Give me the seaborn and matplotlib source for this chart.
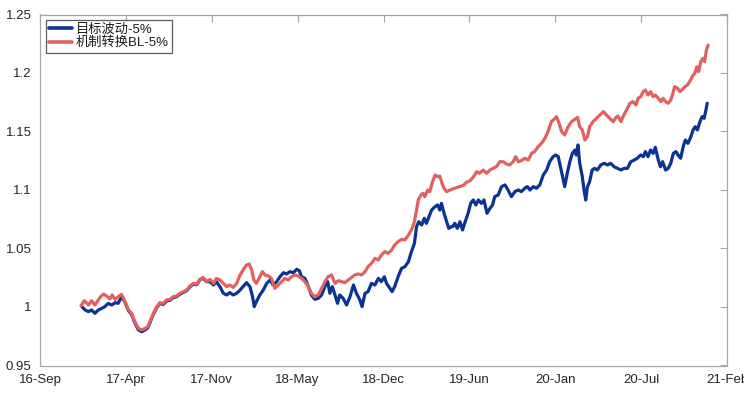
import pandas as pd
import seaborn as sns
import matplotlib
matplotlib.use("Agg")
import matplotlib.pyplot as plt

# day offsets from 2016-09-28 (left edge of the x axis) and net values
start_date = "2016-09-28"

blue_day = [96, 101, 105, 113, 120, 128, 136, 144, 151, 159, 167, 175, 182, 190,
            198, 206, 213, 221, 229, 237, 245, 251, 256, 264, 272, 279, 287, 295,
            303, 310, 318, 326, 334, 342, 349, 357, 365, 373, 380, 388, 396, 404,
            411, 419, 427, 435, 442, 450, 458, 466, 473, 481, 489, 495, 499, 504,
            512, 520, 528, 536, 543, 551, 559, 567, 574, 582, 590, 598, 604, 609,
            617, 625, 632, 640, 648, 656, 664, 670, 675, 681, 687, 693, 698, 706,
            714, 722, 730, 737, 745, 750, 757, 764, 772, 780, 788, 795, 802, 807,
            815, 820, 826, 834, 842, 850, 858, 865, 872, 877, 882, 889, 895, 900,
            906, 912, 920, 926, 931, 935, 941, 947, 952, 958, 961, 966, 972, 978,
            984, 989, 997, 1003, 1009, 1015, 1021, 1028, 1034, 1041, 1048, 1054,
            1059, 1067, 1075, 1083, 1090, 1098, 1106, 1114, 1121, 1129, 1135, 1141,
            1149, 1156, 1164, 1172, 1180, 1187, 1195, 1201, 1207, 1212, 1217, 1222,
            1228, 1234, 1240, 1246, 1249, 1253, 1257, 1263, 1267, 1271, 1275, 1280,
            1286, 1292, 1298, 1306, 1314, 1322, 1329, 1337, 1345, 1353, 1360, 1368,
            1376, 1384, 1391, 1399, 1405, 1410, 1416, 1422, 1428, 1433, 1440, 1445,
            1450, 1457, 1463, 1469, 1475, 1481, 1486, 1492, 1498, 1503, 1509, 1516,
            1521, 1526, 1531, 1537, 1542, 1547, 1551, 1554]
blue_val = [1.0012, 0.9989, 0.9975, 0.9960, 0.9975, 0.9946, 0.9975, 0.9989, 1.0003, 1.0031,
            1.0017, 1.0037, 1.0031, 1.0088, 1.0040, 0.9968, 0.9938, 0.9865, 0.9805, 0.9789,
            0.9805, 0.9822, 0.9865, 0.9938, 0.9995, 1.0030, 1.0022, 1.0052, 1.0058, 1.0080,
            1.0088, 1.0110, 1.0125, 1.0140, 1.0172, 1.0196, 1.0190, 1.0236, 1.0245, 1.0216,
            1.0216, 1.0188, 1.0216, 1.0174, 1.0117, 1.0103, 1.0123, 1.0103, 1.0117, 1.0145,
            1.0174, 1.0208, 1.0174, 1.0088, 1.0003, 1.0046, 1.0103, 1.0145, 1.0202, 1.0231,
            1.0188, 1.0216, 1.0259, 1.0293, 1.0282, 1.0302, 1.0293, 1.0322, 1.0310, 1.0259,
            1.0245, 1.0174, 1.0103, 1.0066, 1.0074, 1.0103, 1.0180, 1.0217, 1.0117, 1.0174,
            1.0103, 1.0031, 1.0103, 1.0074, 1.0017, 1.0088, 1.0188, 1.0117, 1.0060, 1.0003,
            1.0117, 1.0131, 1.0202, 1.0188, 1.0245, 1.0217, 1.0259, 1.0202, 1.0160, 1.0131,
            1.0174, 1.0259, 1.0330, 1.0345, 1.0387, 1.0473, 1.0544, 1.0687, 1.0729, 1.0701,
            1.0758, 1.0715, 1.0772, 1.0829, 1.0858, 1.0872, 1.0829, 1.0886, 1.0801, 1.0729,
            1.0672, 1.0687, 1.0687, 1.0715, 1.0672, 1.0729, 1.0658, 1.0715, 1.0801, 1.0886,
            1.0915, 1.0872, 1.0915, 1.0886, 1.0915, 1.0801, 1.0843, 1.0872, 1.0943, 1.0957,
            1.1029, 1.1043, 1.1000, 1.0943, 1.0986, 1.1000, 1.0986, 1.1015, 1.1029, 1.1000,
            1.1029, 1.1015, 1.1043, 1.1128, 1.1171, 1.1242, 1.1285, 1.1299, 1.1285, 1.1200,
            1.1114, 1.1029, 1.1143, 1.1242, 1.1314, 1.1342, 1.1299, 1.1385, 1.1228, 1.1114,
            1.1000, 1.0914, 1.1028, 1.1071, 1.1171, 1.1185, 1.1171, 1.1214, 1.1228, 1.1214,
            1.1228, 1.1199, 1.1185, 1.1171, 1.1185, 1.1185, 1.1242, 1.1256, 1.1271, 1.1299,
            1.1285, 1.1328, 1.1285, 1.1342, 1.1313, 1.1365, 1.1256, 1.1199, 1.1242, 1.1171,
            1.1185, 1.1228, 1.1313, 1.1328, 1.1299, 1.1271, 1.1370, 1.1427, 1.1399, 1.1456,
            1.1513, 1.1541, 1.1513, 1.1584, 1.1627, 1.1613, 1.1684, 1.1741]

red_day = [96, 103, 113, 120, 128, 140, 148, 155, 163, 168, 175, 182, 190, 198,
           206, 213, 221, 229, 237, 245, 251, 256, 264, 272, 279, 287, 295, 303,
           310, 318, 326, 334, 342, 349, 357, 365, 373, 380, 388, 396, 404, 411,
           419, 427, 435, 442, 450, 458, 466, 473, 481, 487, 493, 498, 504, 512,
           518, 524, 532, 539, 547, 555, 563, 570, 578, 586, 594, 601, 609, 617,
           625, 632, 640, 648, 656, 664, 671, 679, 687, 695, 702, 710, 718, 726,
           733, 741, 749, 757, 764, 772, 780, 788, 795, 803, 811, 819, 826, 834,
           842, 850, 858, 865, 872, 877, 881, 887, 892, 896, 903, 908, 913, 920,
           926, 931, 935, 941, 947, 955, 962, 970, 978, 986, 993, 1001, 1009, 1017,
           1024, 1032, 1040, 1048, 1055, 1063, 1071, 1079, 1086, 1094, 1102, 1108,
           1114, 1121, 1129, 1137, 1145, 1152, 1160, 1168, 1176, 1183, 1191, 1197,
           1203, 1209, 1215, 1222, 1230, 1238, 1246, 1252, 1257, 1263, 1269, 1275,
           1280, 1288, 1296, 1304, 1312, 1319, 1327, 1335, 1340, 1346, 1353, 1358,
           1366, 1374, 1381, 1388, 1393, 1399, 1405, 1410, 1416, 1422, 1428, 1433,
           1440, 1446, 1451, 1457, 1463, 1469, 1474, 1478, 1485, 1490, 1495, 1502,
           1508, 1513, 1519, 1525, 1530, 1534, 1539, 1544, 1548, 1552, 1556]
red_val = [1.0012, 1.0054, 1.0017, 1.0054, 1.0017, 1.0083, 1.0111, 1.0094, 1.0068, 1.0103,
           1.0065, 1.0088, 1.0108, 1.0046, 0.9975, 0.9946, 0.9875, 0.9818, 0.9803, 0.9818,
           0.9832, 0.9875, 0.9946, 1.0003, 1.0037, 1.0031, 1.0060, 1.0065, 1.0088, 1.0094,
           1.0117, 1.0131, 1.0145, 1.0179, 1.0202, 1.0196, 1.0231, 1.0252, 1.0216, 1.0236,
           1.0202, 1.0245, 1.0231, 1.0202, 1.0174, 1.0188, 1.0168, 1.0202, 1.0274, 1.0316,
           1.0359, 1.0368, 1.0316, 1.0231, 1.0202, 1.0259, 1.0302, 1.0274, 1.0265, 1.0245,
           1.0160, 1.0188, 1.0216, 1.0245, 1.0231, 1.0259, 1.0274, 1.0265, 1.0245, 1.0216,
           1.0174, 1.0117, 1.0088, 1.0103, 1.0160, 1.0220, 1.0259, 1.0274, 1.0202, 1.0225,
           1.0217, 1.0208, 1.0231, 1.0254, 1.0274, 1.0282, 1.0274, 1.0302, 1.0345, 1.0373,
           1.0416, 1.0402, 1.0444, 1.0473, 1.0459, 1.0487, 1.0530, 1.0558, 1.0578, 1.0573,
           1.0615, 1.0658, 1.0729, 1.0829, 1.0915, 1.0957, 1.0972, 1.0943, 1.1000, 1.0986,
           1.1057, 1.1128, 1.1114, 1.1120, 1.1071, 1.1014, 1.0986, 1.1000, 1.1010, 1.1020,
           1.1030, 1.1040, 1.1065, 1.1078, 1.1110, 1.1157, 1.1143, 1.1171, 1.1143, 1.1171,
           1.1185, 1.1200, 1.1242, 1.1242, 1.1222, 1.1214, 1.1242, 1.1285, 1.1242, 1.1251,
           1.1271, 1.1256, 1.1314, 1.1328, 1.1370, 1.1399, 1.1442, 1.1499, 1.1584, 1.1604,
           1.1627, 1.1570, 1.1499, 1.1470, 1.1541, 1.1584, 1.1604, 1.1621, 1.1541, 1.1513,
           1.1427, 1.1456, 1.1541, 1.1584, 1.1613, 1.1641, 1.1670, 1.1641, 1.1613, 1.1584,
           1.1613, 1.1632, 1.1584, 1.1627, 1.1684, 1.1741, 1.1755, 1.1727, 1.1784, 1.1798,
           1.1841, 1.1855, 1.1812, 1.1841, 1.1798, 1.1812, 1.1784, 1.1755, 1.1784, 1.1755,
           1.1741, 1.1769, 1.1826, 1.1883, 1.1869, 1.1841, 1.1855, 1.1883, 1.1898, 1.1926,
           1.1969, 1.1998, 1.2054, 1.2011, 1.2097, 1.2125, 1.2097, 1.2197, 1.2239]

tick_dates = ["2016-09-28", "2017-04-16", "2017-11-02", "2018-05-21", "2018-12-07",
              "2019-06-25", "2020-01-11", "2020-07-29", "2021-02-14"]
tick_labels = ["16-Sep", "17-Apr", "17-Nov", "18-May", "18-Dec",
               "19-Jun", "20-Jan", "20-Jul", "21-Feb"]
y_ticks = [0.95, 1, 1.05, 1.1, 1.15, 1.2, 1.25]
y_labels = ["0.95", "1", "1.05", "1.1", "1.15", "1.2", "1.25"]

names = ["目标波动-5%", "机制转换BL-5%"]
colors = ["#0b3391", "#e2605f"]

sns.set_style("white")
plt.rcParams["font.family"] = ["Liberation Sans", "Noto Sans CJK SC"]

base = pd.Timestamp(start_date)
blue_df = pd.DataFrame({"date": base + pd.to_timedelta(blue_day, unit="D"), "nav": blue_val})
red_df = pd.DataFrame({"date": base + pd.to_timedelta(red_day, unit="D"), "nav": red_val})

fig = plt.figure(figsize=(7.44, 3.96), dpi=100)
ax = fig.add_axes([40 / 744, 30.5 / 396, 687 / 744, 351 / 396])

sns.lineplot(data=blue_df, x="date", y="nav", color=colors[0], lw=2.3, label=names[0], ax=ax)
sns.lineplot(data=red_df, x="date", y="nav", color=colors[1], lw=2.3, label=names[1], ax=ax)

ax.set_xlim(base, pd.Timestamp(tick_dates[-1]))
ax.set_ylim(0.95, 1.25)
ax.set_xticks(pd.to_datetime(tick_dates))
ax.set_xticklabels(tick_labels)
ax.set_yticks(y_ticks)
ax.set_yticklabels(y_labels)
ax.set_xlabel("")
ax.set_ylabel("")

for s in ax.spines.values():
    s.set_visible(True)
    s.set_color("#a6a6a6")
    s.set_linewidth(0.9)
ax.tick_params(axis="both", direction="in", length=5, width=0.8, color="#a6a6a6",
               labelsize=9.5, labelcolor="#262626", top=True, right=True, pad=6)

leg = ax.legend(loc="upper left", fontsize=9.5, frameon=True, fancybox=False,
                borderaxespad=0.42, borderpad=0.25, labelspacing=0.1,
                handlelength=1.75, handletextpad=0.3)
leg.get_frame().set_edgecolor("#333333")
leg.get_frame().set_linewidth(0.9)
for line in leg.get_lines():
    line.set_linewidth(2.6)
for t in leg.get_texts():
    t.set_color("#1a1a1a")

fig.savefig("out.png", dpi=100)
